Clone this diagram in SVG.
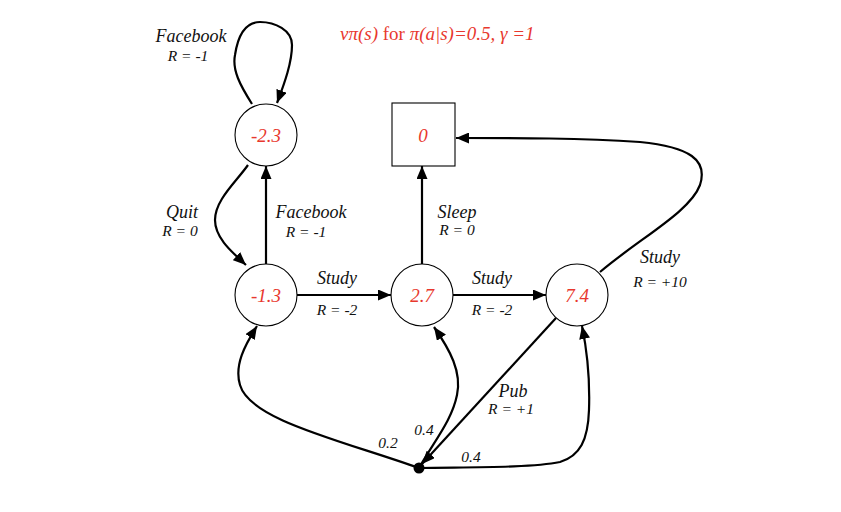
<svg xmlns="http://www.w3.org/2000/svg" width="841" height="512" viewBox="0 0 841 512">
<defs>
<marker id="ah" markerUnits="userSpaceOnUse" markerWidth="14" markerHeight="11" refX="13" refY="5.5" orient="auto">
<path d="M0,0 L13,5.5 L0,11 z" fill="#000"/>
</marker>
<style>
.node{fill:#fff;stroke:#000;stroke-width:1.1}
.val{font-family:"Liberation Serif",serif;font-style:italic;font-size:19px;fill:#e8382e;text-anchor:middle}
.edge{fill:none;stroke:#000;stroke-width:2.2;marker-end:url(#ah)}
.lbl{font-family:"Liberation Serif",serif;font-style:italic;font-size:18px;fill:#111;text-anchor:middle}
.r{font-family:"Liberation Serif",serif;font-style:italic;font-size:15.5px;fill:#111;text-anchor:middle}
.title{font-family:"Liberation Serif",serif;font-style:italic;font-size:19px;fill:#e8382e}
</style>
</defs>
<rect width="841" height="512" fill="#fff"/>
<text class="title" x="340" y="40">vπ(s) <tspan font-style="normal">for</tspan> π(a|s)=0.5, γ =1</text>

<g id="connectors">
<path class="edge" d="M252,104 C240,85 232,70 235,55 C238,35 245,22 260,22 C275,22 292,30 292,45 C292,62 285,82 277,103"/>
<path class="edge" d="M248,165 C236,182 215,200 215,220 C215,238 232,252 246,265"/>
<path class="edge" d="M266,264 L266,166"/>
<path class="edge" d="M297,295 L391,295"/>
<path class="edge" d="M422,264 L422,166"/>
<path class="edge" d="M453,295 L546,295"/>
<path class="edge" d="M600,272 C640,238 690,212 700,185 C708,160 690,147 640,142 C580,138 520,138 456,138"/>
<path class="edge" d="M556,318 L422,464"/>
<path class="edge" d="M419,468 C340,440 250,420 240,385 C234,365 245,345 257,326"/>
<path class="edge" d="M419,468 C435,440 452,420 457,395 C462,372 450,350 434,327"/>
<path class="edge" d="M419,468 C470,467 530,468 560,462 C580,456 588,440 589,410 C590,380 588,355 582,326"/>
</g>

<g id="n-fb"><circle class="node" cx="266" cy="135" r="31"/><text class="val" x="266" y="142">-2.3</text></g>
<g id="n-c1"><circle class="node" cx="266" cy="295" r="31"/><text class="val" x="266" y="302">-1.3</text></g>
<g id="n-c2"><circle class="node" cx="422" cy="295" r="31"/><text class="val" x="422" y="302">2.7</text></g>
<g id="n-c3"><circle class="node" cx="577" cy="295" r="31"/><text class="val" x="577" y="302">7.4</text></g>
<g id="n-sleep"><rect class="node" x="392" y="103" width="63" height="63"/><text class="val" x="423" y="142">0</text></g>
<g id="n-pub"><circle cx="419" cy="468" r="5.5" fill="#000"/></g>

<g id="labels">
<text class="lbl" x="191" y="42">Facebook</text>
<text class="r" x="188" y="61">R = -1</text>
<text class="lbl" x="182" y="218">Quit</text>
<text class="r" x="180" y="236">R = 0</text>
<text class="lbl" x="311" y="218">Facebook</text>
<text class="r" x="306" y="237">R = -1</text>
<text class="lbl" x="457" y="218">Sleep</text>
<text class="r" x="457" y="235">R = 0</text>
<text class="lbl" x="337" y="284">Study</text>
<text class="r" x="337" y="315">R = -2</text>
<text class="lbl" x="492" y="284">Study</text>
<text class="r" x="492" y="315">R = -2</text>
<text class="lbl" x="660" y="263">Study</text>
<text class="r" x="660" y="287">R = +10</text>
<text class="lbl" x="513" y="397">Pub</text>
<text class="r" x="511" y="414">R = +1</text>
<text class="r" x="388" y="448">0.2</text>
<text class="r" x="424" y="435">0.4</text>
<text class="r" x="471" y="462">0.4</text>
</g>
</svg>
